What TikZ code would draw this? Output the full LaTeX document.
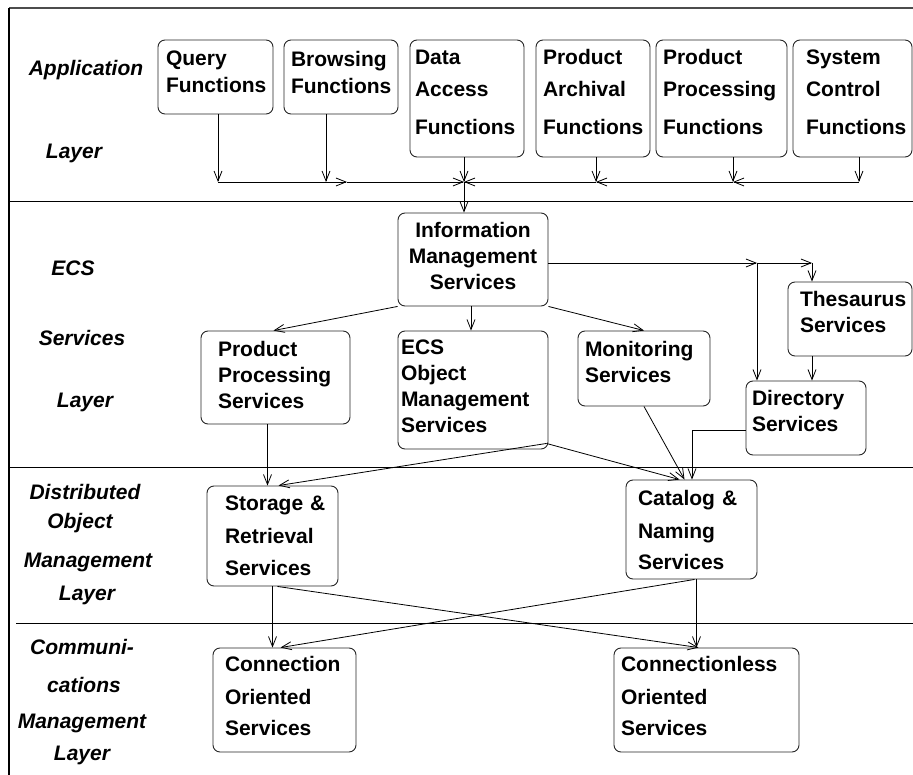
\documentclass[tikz,border=0pt]{standalone}
\usepackage{fontspec}
\setmainfont{Liberation Sans}
\usetikzlibrary{arrows.meta}
\newcommand{\boxfont}{\fontsize{21}{26}\selectfont\bfseries}
\newcommand{\lblfont}{\fontsize{21}{26}\selectfont\bfseries\itshape}

\begin{document}
\begin{tikzpicture}[
  x=1pt, y=-1pt,
  box/.style={draw=black!85, rounded corners=7pt, line width=0.9pt, font=\boxfont, align=left, inner ysep=0pt},
  lbl/.style={font=\lblfont, inner sep=0pt},
  arr/.style={-{Straight Barb[length=10pt,width=8pt]}, line width=0.8pt},
  sep/.style={line width=0.9pt}
]
  \useasboundingbox (0,0) rectangle (913,775);

  % frame and layer borders
  \draw[line width=2pt, black!70] (9,8) -- (913,8);
  \draw[line width=1.2pt] (9,8) -- (9,775);
  \draw[sep] (9,201) -- (913,201);
  \draw[sep] (9,467) -- (913,467);
  \draw[sep] (16,623) -- (913,623);

  % layer names
  \node[lbl] (appl)  at (86,70)  {Application};
  \node[lbl] (appl2) at (74,153) {Layer};
  \node[lbl] (ecs1)  at (73,268) {ECS};
  \node[lbl] (ecs2)  at (82,338) {Services};
  \node[lbl] (ecs3)  at (85,402) {Layer};
  \node[lbl] (dom1)  at (85,492) {Distributed};
  \node[lbl] (dom2)  at (80,523) {Object};
  \node[lbl] (dom3)  at (88,562) {Management};
  \node[lbl] (dom4)  at (87,595) {Layer};
  \node[lbl] (com1)  at (82,647) {Communi-};
  \node[lbl] (com2)  at (84,685) {cations};
  \node[lbl] (com3)  at (82,723) {Management};
  \node[lbl] (com4)  at (82,755) {Layer};

  % application layer
  \node[box, minimum width=115pt, minimum height=74pt, inner xsep=8pt, text width=99pt, text depth=37pt] (query) at (215.5,77) {Query\\[1pt]Functions};
  \node[box, minimum width=114pt, minimum height=74pt, inner xsep=7pt, text width=100pt, text depth=37pt] (browse) at (341,77) {Browsing\\[1pt]Functions};
  \node[box, minimum width=114pt, minimum height=117pt, inner xsep=5pt, text width=104pt, text depth=83pt] (data) at (467,98.5) {Data\\[6pt]Access\\[12pt]Functions};
  \node[box, minimum width=114pt, minimum height=117pt, inner xsep=7pt, text width=100pt, text depth=83pt] (arch) at (593,98.5) {Product\\[6pt]Archival\\[12pt]Functions};
  \node[box, minimum width=131pt, minimum height=117pt, inner xsep=7pt, text width=117pt, text depth=83pt] (ppf) at (721.5,98.5) {Product\\[6pt]Processing\\[12pt]Functions};
  \node[box, minimum width=119pt, minimum height=117pt, inner xsep=13pt, text width=93pt, text depth=83pt] (sysc) at (852.5,98.5) {System\\[6pt]Control\\[12pt]Functions};

  % ECS services layer
  \node[box, align=center, minimum width=150pt, minimum height=93pt, inner xsep=5pt, text width=140pt, text depth=59pt] (info) at (473,259.5) {Information\\Management\\Services};
  \node[box, minimum width=149pt, minimum height=93pt, inner xsep=17pt, text width=115pt, text depth=57pt] (pps) at (275.5,377.5) {Product\\Processing\\Services};
  \node[box, minimum width=150pt, minimum height=118pt, inner xsep=3pt, text width=144pt, text depth=85pt] (ecsom) at (473,390) {ECS\\Object\\Management\\Services};
  \node[box, minimum width=132pt, minimum height=75pt, inner xsep=7pt, text width=118pt, text depth=39pt] (mon) at (644,368.5) {Monitoring\\Services};
  \node[box, minimum width=124pt, minimum height=74pt, inner xsep=12pt, text width=100pt, text depth=40pt] (thes) at (850,319) {Thesaurus\\Services};
  \node[box, minimum width=120pt, minimum height=74pt, inner xsep=6pt, text width=108pt, text depth=40pt] (dir) at (806,418) {Directory\\Services};

  % distributed object management layer
  \node[box, minimum width=131pt, minimum height=100pt, inner xsep=18pt, text width=95pt] (stor) at (272.5,536) {Storage~\&\\[7pt]Retrieval\\[6pt]Services};
  \node[box, minimum width=131pt, minimum height=99pt, inner xsep=12pt, text width=107pt] (cat) at (691.5,529.5) {Catalog~\&\\[7pt]Naming\\[5pt]Services};

  % communications management layer
  \node[box, minimum width=143pt, minimum height=104pt, inner xsep=12pt, text width=119pt, text depth=72pt] (conn) at (284.5,700) {Connection\\[7pt]Oriented\\[5pt]Services};
  \node[box, minimum width=185pt, minimum height=104pt, inner xsep=7pt, text width=171pt, text depth=72pt] (cless) at (706.5,700) {Connectionless\\[7pt]Oriented\\[5pt]Services};

  % collecting line of the application layer
  \coordinate (bq) at (218,182);
  \coordinate (bb) at (326,182);
  \coordinate (bm) at (347,182);
  \coordinate (bj) at (464,182);
  \coordinate (ba) at (596,182);
  \coordinate (bp) at (733,182);
  \coordinate (bs) at (859,182);
  \draw[arr] (bq |- query.south) -- (bq);
  \draw[arr] (bb |- browse.south) -- (bb);
  \draw[arr] (bq) -- (bm);
  \draw[arr] (bm) -- (bj);
  \draw[arr] (bs |- sysc.south) -- (bs);
  \draw[arr] (bs) -- (bp);
  \draw[arr] (bp |- ppf.south) -- (bp);
  \draw[arr] (bp) -- (ba);
  \draw[arr] (ba |- arch.south) -- (ba);
  \draw[arr] (ba) -- (bj);
  \draw[arr] (bj |- data.south) -- (bj);
  \draw[arr] (bj) -- (bj |- info.north);

  % ECS services
  \coordinate (tj) at (757,263);
  \coordinate (tk) at (812,263);
  \coordinate (dc) at (692,430);
  \draw[arr] (info.south west) -- ([xshift=-2pt]pps.north);
  \draw[arr] ([xshift=-2pt]info.south) -- ([xshift=-2pt]ecsom.north);
  \draw[arr] (info.south east) -- (mon.north);
  \draw[arr] (info.east |- tj) -- (tj);
  \draw[arr] (tj) -- (tk);
  \draw[arr] (tk) -- (tk |- thes.north);
  \draw[arr] (tj) -- (tj |- dir.north);
  \draw[arr] (tk |- thes.south) -- (tk |- dir.north);
  \draw[arr] (dir.west |- dc) -- (dc) -- (dc |- cat.north);
  \draw[arr] (mon.south) -- ([xshift=-7pt]cat.north);
  \draw[arr] ([yshift=6pt,xshift=-2pt]ecsom.south east) -- ([xshift=-12pt]cat.north);
  \draw[arr] ([yshift=6pt,xshift=-2pt]ecsom.south east) -- ([xshift=6pt]stor.north);
  \draw[arr] ([xshift=-8pt]pps.south) -- ([xshift=-8pt]pps.south |- stor.north);

  % down to the communications layer
  \draw[arr] (stor.south) -- (stor.south |- conn.north);
  \draw[arr] ([xshift=5pt]stor.south) -- ([xshift=-8pt]cless.north);
  \draw[arr] ([xshift=5pt]cat.south) -- ([xshift=5pt]cat.south |- cless.north);
  \draw[arr] ([xshift=3pt]cat.south) -- ([xshift=-4pt]conn.north);
\end{tikzpicture}
\end{document}
